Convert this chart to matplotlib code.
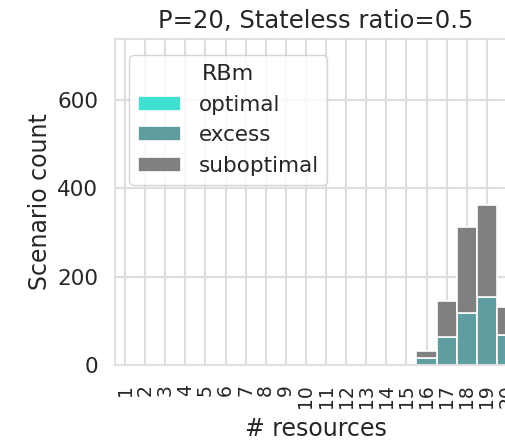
import matplotlib
matplotlib.use("Agg")
import matplotlib.pyplot as plt
import seaborn as sns
import numpy as np

sns.set_theme(style="whitegrid", context="notebook")
plt.rcParams['font.family'] = ['DejaVu Sans']

resources = list(range(1, 21))
optimal = [0]*20
excess = [0]*15 + [16, 64, 117, 155, 68]
suboptimal = [0]*15 + [16, 82, 195, 207, 63]

colors = {"optimal": "#40e0d0", "excess": "#5f9ea0", "suboptimal": "#808080"}

fig = plt.figure(figsize=(5.06, 4.41), dpi=100)
ax = fig.add_axes([115/506, 1-365/441, 402/506, (365-39)/441])

x = np.array(resources)
opt = np.array(optimal)
exc = np.array(excess)
sub = np.array(suboptimal)
ax.bar(x, opt, width=1.0, color=colors["optimal"], edgecolor="white", linewidth=1.2, label="optimal")
ax.bar(x, exc, width=1.0, bottom=opt, color=colors["excess"], edgecolor="white", linewidth=1.2, label="excess")
ax.bar(x, sub, width=1.0, bottom=opt+exc, color=colors["suboptimal"], edgecolor="white", linewidth=1.2, label="suboptimal")

ax.set_xlim(0.5, 20.5)
ax.set_ylim(0, 738)
ax.set_xticks(x)
ax.set_xticklabels([str(r) for r in resources], rotation=90)
ax.set_yticks([0, 200, 400, 600])
ax.tick_params(axis="y", labelsize=15.5, pad=6)
ax.tick_params(axis="x", labelsize=13.5, pad=8)
ax.set_xlabel("# resources", fontsize=17, labelpad=6)
ax.set_ylabel("Scenario count", fontsize=17)
ax.set_title("P=20, Stateless ratio=0.5", fontsize=17.5, pad=8)
ax.grid(True, axis="both", color="#dddddd", linewidth=1.5)
for s in ax.spines.values():
    s.set_color("#dddddd")
leg = ax.legend(title="RBm", loc="upper left", bbox_to_anchor=(0.02, 0.97),
                fontsize=15.5, title_fontsize=16, borderaxespad=0.3)
fig.savefig("out.png", dpi=100)
